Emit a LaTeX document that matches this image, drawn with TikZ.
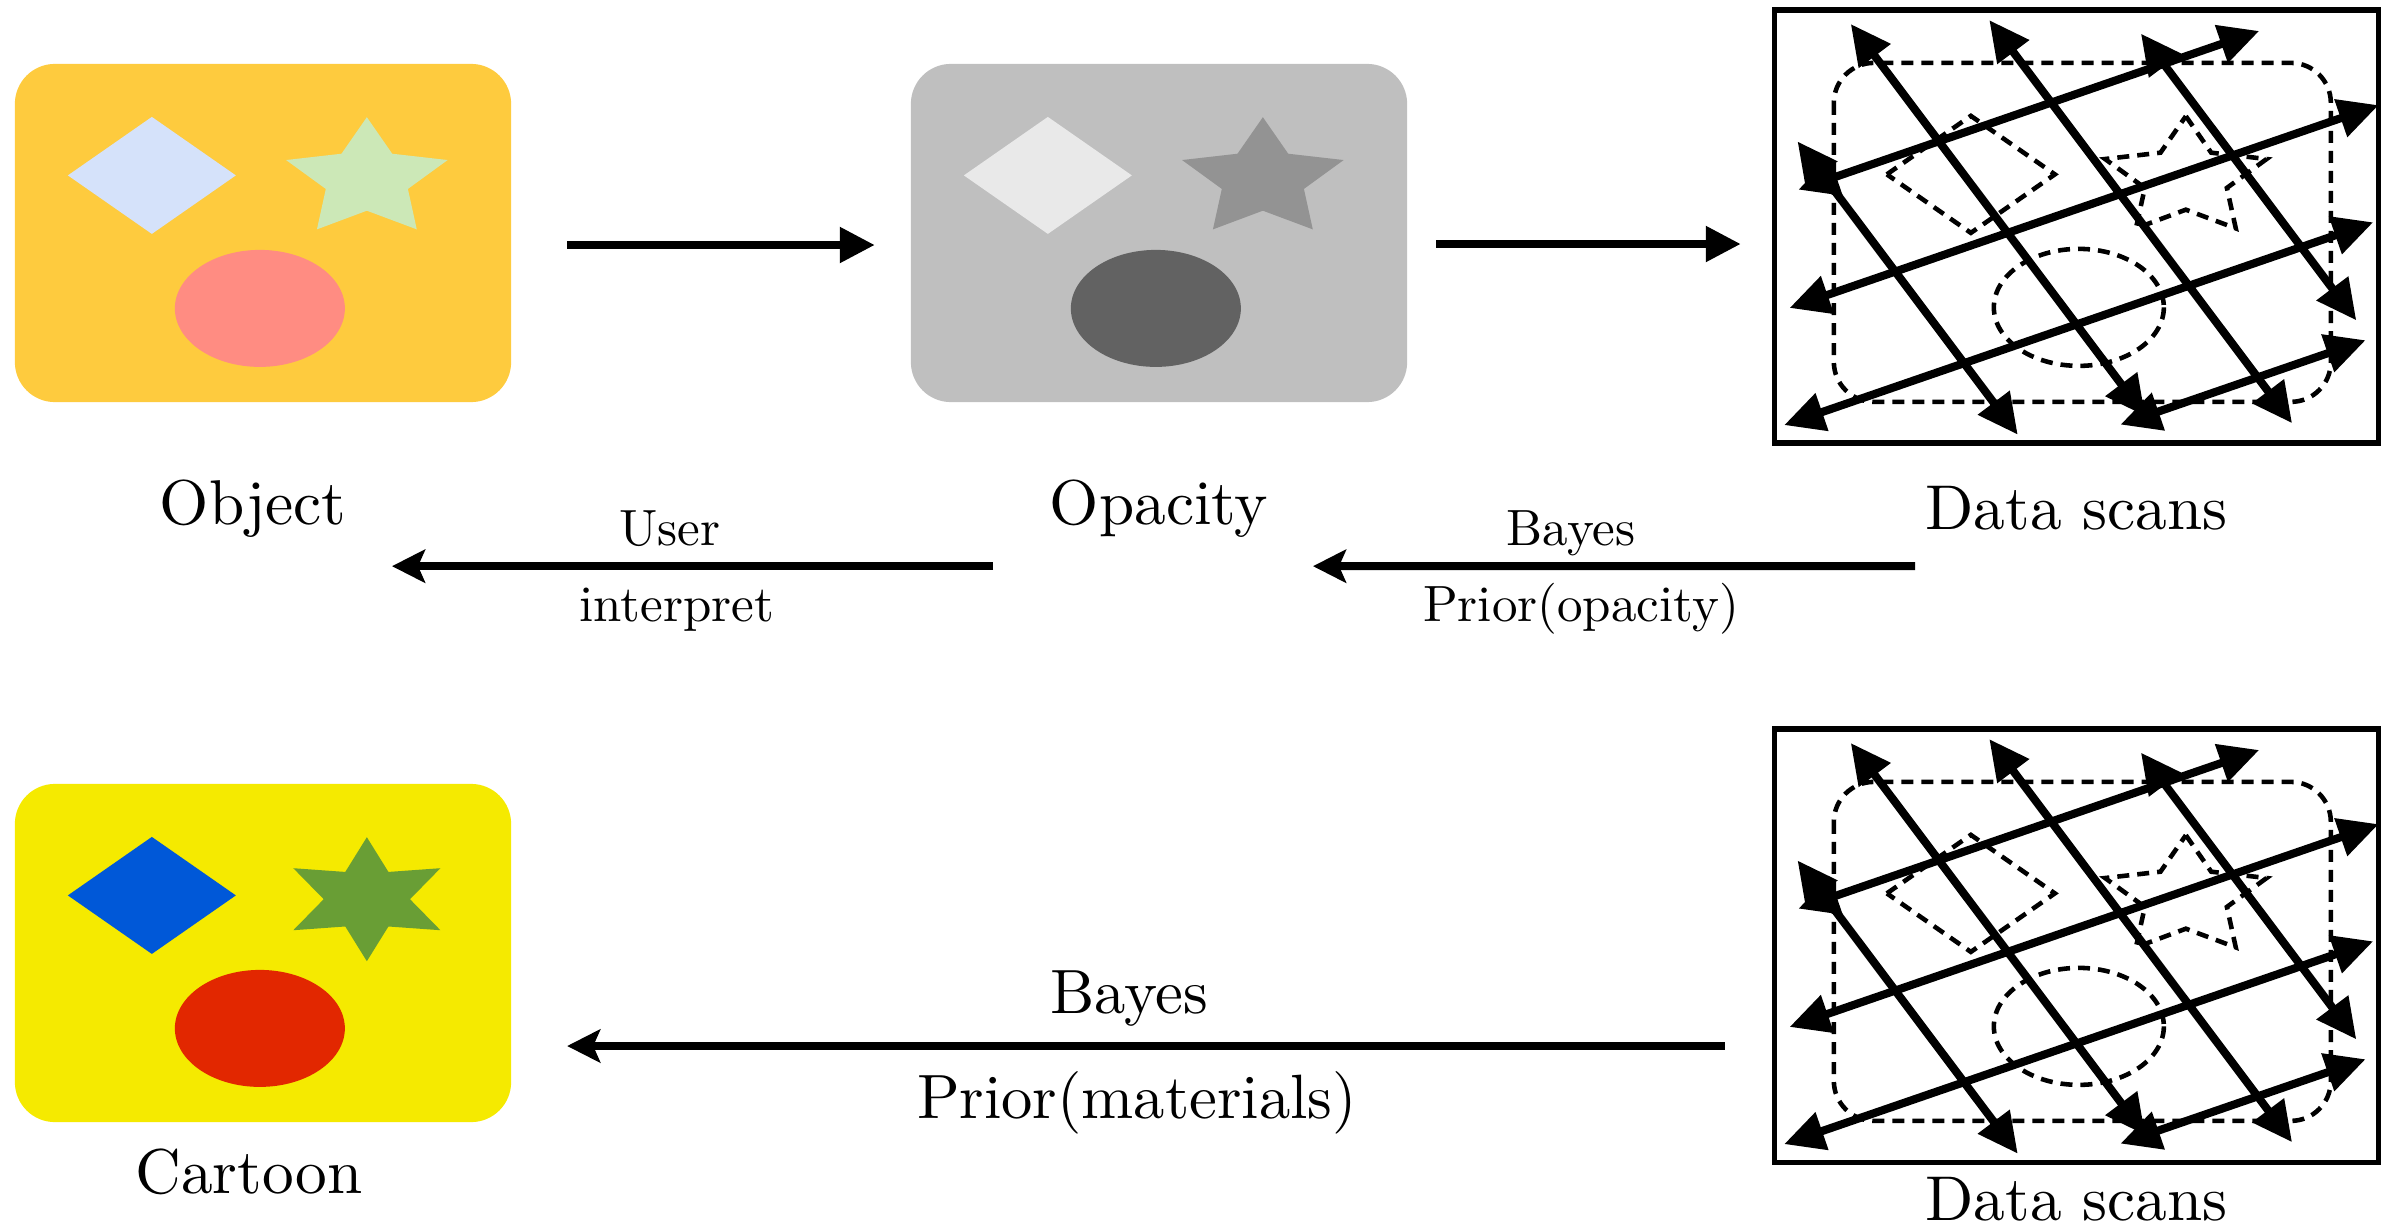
\documentclass[tikz,border=0pt]{standalone}
\usepackage{fontspec}
\setmainfont{lmroman10-regular.otf}
\usepackage{tikz}
\usetikzlibrary{arrows.meta,positioning}

\definecolor{amarillo}{RGB}{254,203,62}
\definecolor{azulclaro}{RGB}{213,226,250}
\definecolor{verdeclaro}{RGB}{204,232,183}
\definecolor{salmon}{RGB}{255,140,130}
\definecolor{gris}{RGB}{191,191,191}
\definecolor{grisclaro}{RGB}{233,233,233}
\definecolor{grismedio}{RGB}{147,147,147}
\definecolor{grisoscuro}{RGB}{98,98,98}
\definecolor{limon}{RGB}{245,234,0}
\definecolor{azulfuerte}{RGB}{0,88,216}
\definecolor{verdeoliva}{RGB}{105,158,53}
\definecolor{rojo}{RGB}{226,39,0}

\newcommand{\figuras}[4]{%
  \path[#1] (53,111.5) -- (137,53) -- (221,111.5) -- (137,170) -- cycle;
  \begin{scope}[shift={(352,115.3)},xscale=1.37]
    \pgfmathtruncatemacro{\ultimo}{2*#4-1}
    \path[#2] plot[samples at={0,...,\ultimo},variable=\k]
      ({270+180/#4*\k}:{62-30.5*mod(\k,2)}) -- cycle;
  \end{scope}
  \path[#3] (245,244.5) ellipse [x radius=85,y radius=58.5];
}

\newcommand{\escaneo}{%
  \draw[punteado,rounded corners=0.4cm] (59,53) rectangle ++(497,339);
  \begin{scope}[shift={(59,53)}]
    \figuras{punteado}{punteado}{punteado}{5}
  \end{scope}
  \begin{scope}[shift={(51.6,170.1)}]
    \foreach \i/\a/\b in {0/-0.42/2.78,1/-1.28/3.0,2/-0.9/3.5,3/-0.33/2.8}
      \draw[barrido] ({112.4*\i+68.8*\a},{-38.7*\i+91.6*\a})
        -- ({112.4*\i+68.8*\b},{-38.7*\i+91.6*\b});
    \foreach \j/\a/\b in {0/-0.25/3.85,1/-0.94/4.3,2/-1.6/3.64,3/0.78/2.96}
      \draw[barrido] ({112.4*\a+68.8*\j},{-38.7*\a+91.6*\j})
        -- ({112.4*\b+68.8*\j},{-38.7*\b+91.6*\j});
  \end{scope}
}

\begin{document}
\begin{tikzpicture}[x=0.01cm,y=-0.01cm,
    panel/.style={rounded corners=0.4cm,minimum width=4.96cm,
      minimum height=3.38cm,inner sep=0pt,outer sep=0pt},
    marco/.style={draw,line width=1.5pt,minimum width=6.03cm,
      minimum height=4.33cm,inner sep=0pt,outer sep=0pt},
    punteado/.style={draw,line width=1.3pt,dash pattern=on 0.12cm off 0.08cm},
    barrido/.style={line width=2.3pt,
      {Triangle[length=4mm,width=3.8mm]}-{Triangle[length=4mm,width=3.8mm]}},
    flecha/.style={line width=2.3pt,-{Triangle[length=3.5mm,width=3.4mm]}},
    vuelta/.style={line width=2.3pt,-{Stealth[length=3.3mm,width=3.3mm,inset=0.7mm]}},
    grande/.style={font=\fontsize{18}{22}\selectfont,inner sep=0pt},
    media/.style={font=\fontsize{17.8}{21}\selectfont,inner sep=0pt},
    chica/.style={font=\fontsize{14.5}{18}\selectfont,inner sep=0pt}]
  \useasboundingbox (0,0) rectangle (2391,1230);

  \node[panel,fill=amarillo] (obj) at (263,233) {};
  \begin{scope}[shift={(obj.north west)}]
    \figuras{fill=azulclaro}{fill=verdeclaro}{fill=salmon}{5}
  \end{scope}

  \node[panel,fill=gris] (opa) at (1159,233) {};
  \begin{scope}[shift={(opa.north west)}]
    \figuras{fill=grisclaro}{fill=grismedio}{fill=grisoscuro}{5}
  \end{scope}

  \node[marco] (scanA) at (2076.5,226.5) {};
  \begin{scope}[shift={(scanA.north west)}]
    \escaneo
  \end{scope}

  \node[panel,fill=limon] (cart) at (263,953) {};
  \begin{scope}[shift={(cart.north west)}]
    \figuras{fill=azulfuerte}{fill=verdeoliva}{fill=rojo}{6}
  \end{scope}

  \node[marco] (scanB) at (2076.5,945.5) {};
  \begin{scope}[shift={(scanB.north west)}]
    \escaneo
  \end{scope}

  \node[grande,below=1.22cm of obj,anchor=base,xshift=-0.1cm] (lobj) {Object};
  \node[grande,below=1.22cm of opa,anchor=base] (lopa) {Opacity};
  \node[grande,below=0.86cm of scanA,anchor=base] (lscanA) {Data scans};
  \node[grande,below=0.71cm of cart,anchor=base,xshift=-0.14cm] (lcart) {Cartoon};
  \node[grande,below=0.58cm of scanB,anchor=base] (lscanB) {Data scans};

  \draw[flecha,shorten <=0.56cm,shorten >=0.36cm]
    ([yshift=-0.12cm]obj.east) -- ([yshift=-0.12cm]opa.west);
  \coordinate (f2) at ([yshift=-0.11cm]opa.east);
  \draw[flecha,shorten <=0.29cm,shorten >=0.34cm] (f2) -- (f2 -| scanA.west);

  \coordinate (u1) at ([shift={(-166,42)}]lopa.base);
  \coordinate (u2) at ([shift={(139,42)}]lobj.base);
  \draw[vuelta] (u1) -- (u2);
  \node[chica,anchor=base] (luser) at (670,545) {User};
  \node[chica,anchor=base] (linterp) at (677,621) {interpret};

  \coordinate (p1) at ([shift={(-161.5,37)}]lscanA.base);
  \coordinate (p2) at ([shift={(154,42)}]lopa.base);
  \draw[vuelta] (p1) -- (p2);
  \node[chica,anchor=base] (lbayesA) at (1571,545) {Bayes};
  \node[chica,anchor=base] (lprior) at (1581,621) {Prior(opacity)};

  \coordinate (m1) at ([shift={(-50,100.5)}]scanB.west);
  \coordinate (m2) at ([shift={(56,93)}]cart.east);
  \draw[vuelta] (m1) -- (m2);
  \node[media,anchor=base] (lbayesB) at (1129,1013) {Bayes};
  \node[media,anchor=base] (lmat) at (1137,1118) {Prior(materials)};
\end{tikzpicture}
\end{document}
